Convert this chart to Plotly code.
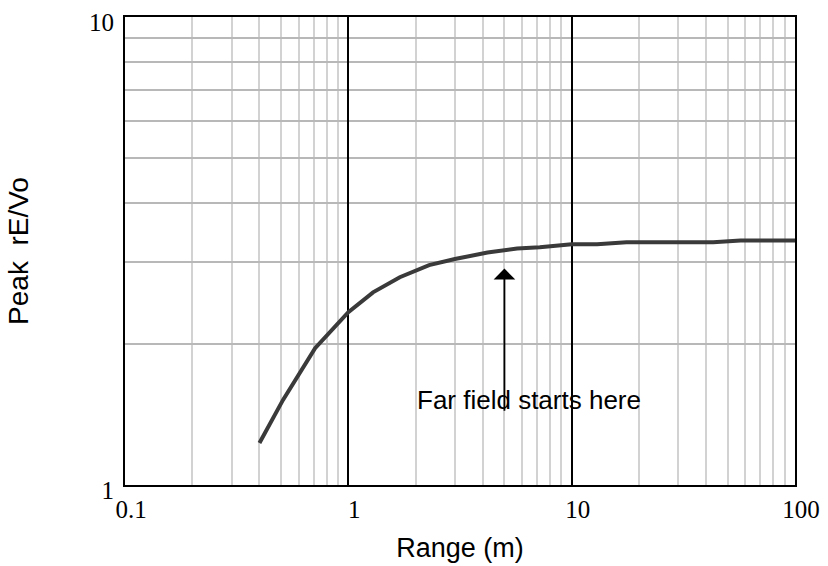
import numpy as np
import plotly.graph_objects as go

# Data
range_m = [0.4, 0.51, 0.71, 1.0, 1.29, 1.7, 2.3, 3.0, 4.2, 5.7, 7.2, 10, 13, 17.6, 43, 57, 100]
peak_rE_Vo = [1.23, 1.52, 1.96, 2.34, 2.58, 2.78, 2.95, 3.04, 3.14, 3.20, 3.22, 3.27, 3.27, 3.30, 3.30, 3.33, 3.33]

x_major = [0.1, 1, 10, 100]
x_major_text = ["0.1", "1", "10", "100"]
y_major = [1, 10]
y_major_text = ["1", "10"]
x_minor = [m * d for d in [0.1, 1, 10] for m in range(2, 10)]
y_minor = [float(m) for m in range(2, 10)]

arrow_x = 5.0
arrow_tip_y = 2.9
arrow_tail_y = 1.43
label_text = "Far field starts here"
label_x = 6.41
label_y = 1.52

fig = go.Figure()
fig.add_trace(go.Scatter(
    x=range_m, y=peak_rE_Vo, mode="lines",
    line=dict(color="#3a3a3a", width=4),
    showlegend=False, hoverinfo="skip"))

fig.add_annotation(
    x=np.log10(arrow_x), y=np.log10(arrow_tip_y),
    ax=np.log10(arrow_x), ay=np.log10(arrow_tail_y),
    xref="x", yref="y", axref="x", ayref="y",
    showarrow=True, arrowhead=1, arrowsize=2.0, arrowwidth=1.8,
    arrowcolor="black", text="")
fig.add_annotation(
    x=np.log10(label_x), y=np.log10(label_y), xref="x", yref="y",
    text=label_text, showarrow=False,
    font=dict(family="Liberation Sans, Arial", size=26, color="black"))

fig.update_xaxes(
    type="log", range=[-1, 2],
    tickmode="array", tickvals=x_major, ticktext=x_major_text,
    showgrid=True, gridcolor="black", gridwidth=2,
    ticks="", ticklabelshift=6, ticklabelstandoff=1,
    ticklabeloverflow="allow",
    tickfont=dict(family="Liberation Serif, Times New Roman", size=25, color="black"),
    minor=dict(tickmode="array", tickvals=x_minor, showgrid=True,
               gridcolor="#d2d2d2", gridwidth=1.5, ticks=""),
    showline=True, linecolor="black", linewidth=2, mirror=True,
    zeroline=False,
    title=dict(text="Range (m)", standoff=16,
               font=dict(family="Liberation Sans, Arial", size=27, color="black")))
fig.update_yaxes(
    type="log", range=[0, 1.0001],
    tickmode="array", tickvals=y_major, ticktext=y_major_text,
    showgrid=False,
    ticks="", ticklabelshift=5, ticklabelstandoff=4,
    ticklabeloverflow="allow",
    tickfont=dict(family="Liberation Serif, Times New Roman", size=25, color="black"),
    minor=dict(tickmode="array", tickvals=y_minor, showgrid=True,
               gridcolor="#b8b8b8", gridwidth=1.5, ticks=""),
    showline=True, linecolor="black", linewidth=2, mirror=True,
    zeroline=False,
    title=dict(text="Peak  rE/Vo", standoff=52,
               font=dict(family="Liberation Sans, Arial", size=28, color="black")))

fig.update_layout(
    width=828, height=566,
    margin=dict(l=125, r=33, t=17, b=81, autoexpand=False),
    paper_bgcolor="white", plot_bgcolor="white")

fig.write_html("out.html")
